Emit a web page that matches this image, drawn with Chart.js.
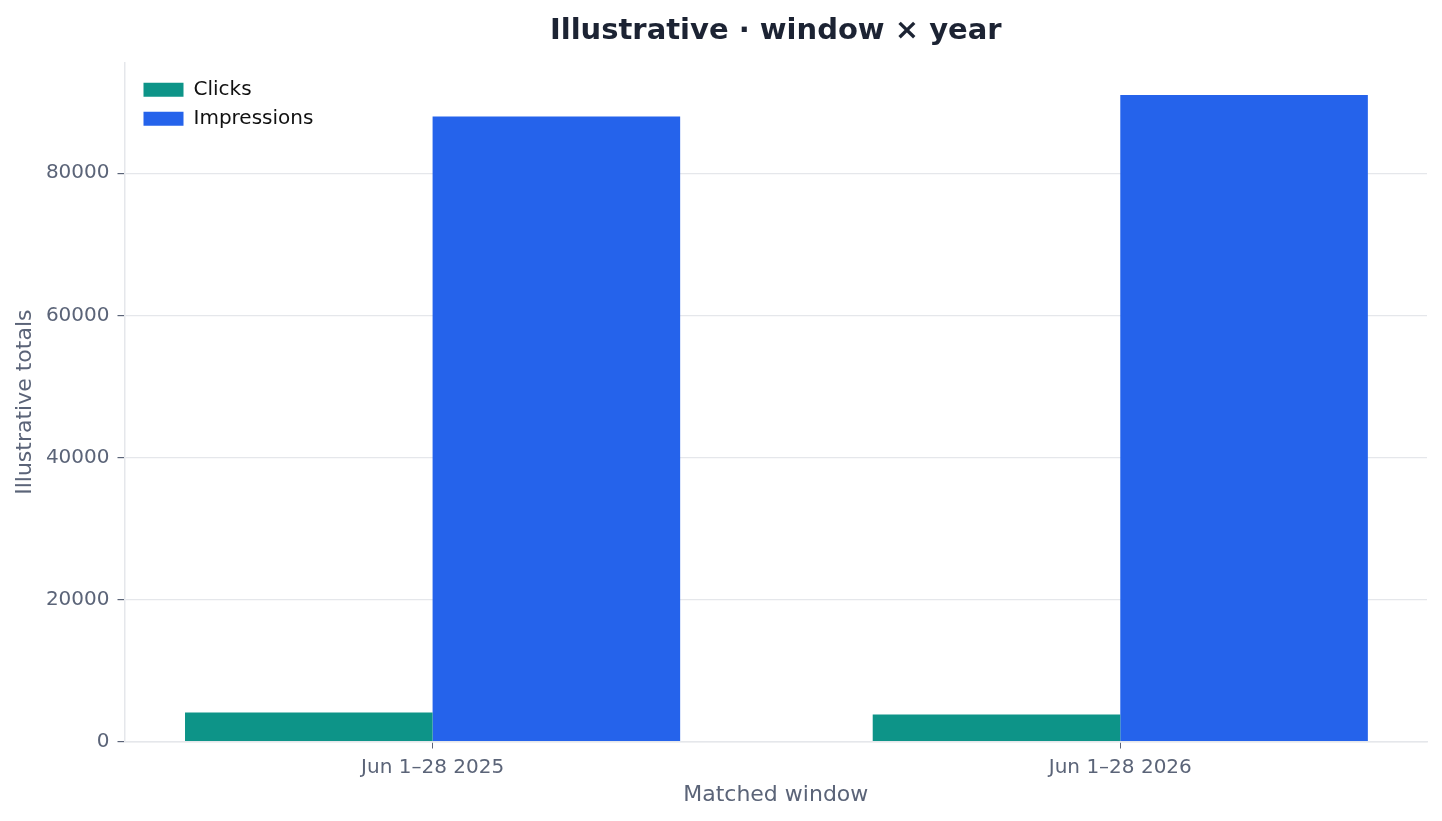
<!DOCTYPE html>
<html>
<head>
<meta charset="utf-8">
<script src="https://cdn.jsdelivr.net/npm/chart.js@4/dist/chart.umd.min.js"></script>
<style>
  html, body { margin: 0; padding: 0; background: #ffffff; }
  #wrap { width: 1442px; height: 821px; position: relative; }
</style>
</head>
<body>
<div id="wrap"><canvas id="myChart"></canvas></div>
<script>
// data
let windows = ['Jun 1\u201328 2025', 'Jun 1\u201328 2026'];
let clicks = [4100, 3800];
let impressions = [88000, 91000];
let yTicks = [0, 20000, 40000, 60000, 80000];

let tickGrey = '#5b6478';
let lineGrey = '#e5e7eb';

Chart.defaults.font.family = "'DejaVu Sans', sans-serif";

// title centred over the plot, legend tucked inside the plot's top-left corner
let placeBoxes = {
  id: 'placeBoxes',
  afterLayout(chart) {
    let area = chart.chartArea;
    chart.titleBlock.left = area.left;
    chart.titleBlock.right = area.right;
    chart.legend.left = area.left + 10;
    chart.legend.top = area.top + 8;
  }
};

let ctx = document.getElementById('myChart').getContext('2d');

let windowChart = new Chart(ctx, {
  type: 'bar',
  data: {
    datasets: [{
      label: 'Clicks',
      data: clicks.map((v, i) => ({ x: i, y: v })),
      backgroundColor: '#0d9488',
    }, {
      label: 'Impressions',
      data: impressions.map((v, i) => ({ x: i, y: v })),
      backgroundColor: '#2563eb',
    }],
  },
  options: {
    responsive: true,
    maintainAspectRatio: false,
    devicePixelRatio: 1,
    animation: false,
    datasets: {
      bar: { categoryPercentage: 0.72, barPercentage: 1.0 }
    },
    layout: { padding: { left: 0, right: 15, top: 0, bottom: 0 } },
    plugins: {
      title: {
        display: true,
        text: 'Illustrative \u00b7 window \u00d7 year',
        color: '#1c2333',
        font: { size: 29, weight: 'bold' },
        padding: { top: 14, bottom: 14 },
      },
      legend: {
        position: 'chartArea',
        align: 'start',
        labels: {
          boxWidth: 40,
          boxHeight: 14,
          padding: 9,
          color: '#111111',
          font: { size: 20 },
        },
      },
      tooltip: { enabled: false },
    },
    scales: {
      x: {
        type: 'linear',
        min: -0.448,
        max: 1.446,
        offset: false,
        afterBuildTicks: (axis) => { axis.ticks = windows.map((w, i) => ({ value: i })); },
        afterFit: (axis) => { axis.height = 79.5; },
        ticks: {
          color: tickGrey,
          font: { size: 20 },
          padding: 7,
          maxRotation: 0,
          autoSkip: false,
          callback: (v) => windows[v],
        },
        grid: {
          drawOnChartArea: false,
          offset: false,
          tickLength: 7,
          tickColor: tickGrey,
        },
        border: { color: lineGrey, width: 1.5 },
        title: {
          display: true,
          text: 'Matched window',
          color: tickGrey,
          font: { size: 22 },
          padding: { top: 0, bottom: 13 },
        },
      },
      y: {
        min: 0,
        max: 95550,
        afterBuildTicks: (axis) => { axis.ticks = yTicks.map(v => ({ value: v })); },
        afterFit: (axis) => { axis.width = 124.5; },
        ticks: {
          color: tickGrey,
          font: { size: 20 },
          padding: 8,
          callback: (v) => String(v),
        },
        grid: {
          color: lineGrey,
          lineWidth: 1.2,
          tickLength: 7,
          tickColor: tickGrey,
        },
        border: { color: lineGrey, width: 1.5 },
        title: {
          display: true,
          text: 'Illustrative totals',
          color: tickGrey,
          font: { size: 22 },
          padding: { top: 12, bottom: 0 },
        },
      },
    },
  },
  plugins: [placeBoxes],
});
</script>
</body>
</html>
